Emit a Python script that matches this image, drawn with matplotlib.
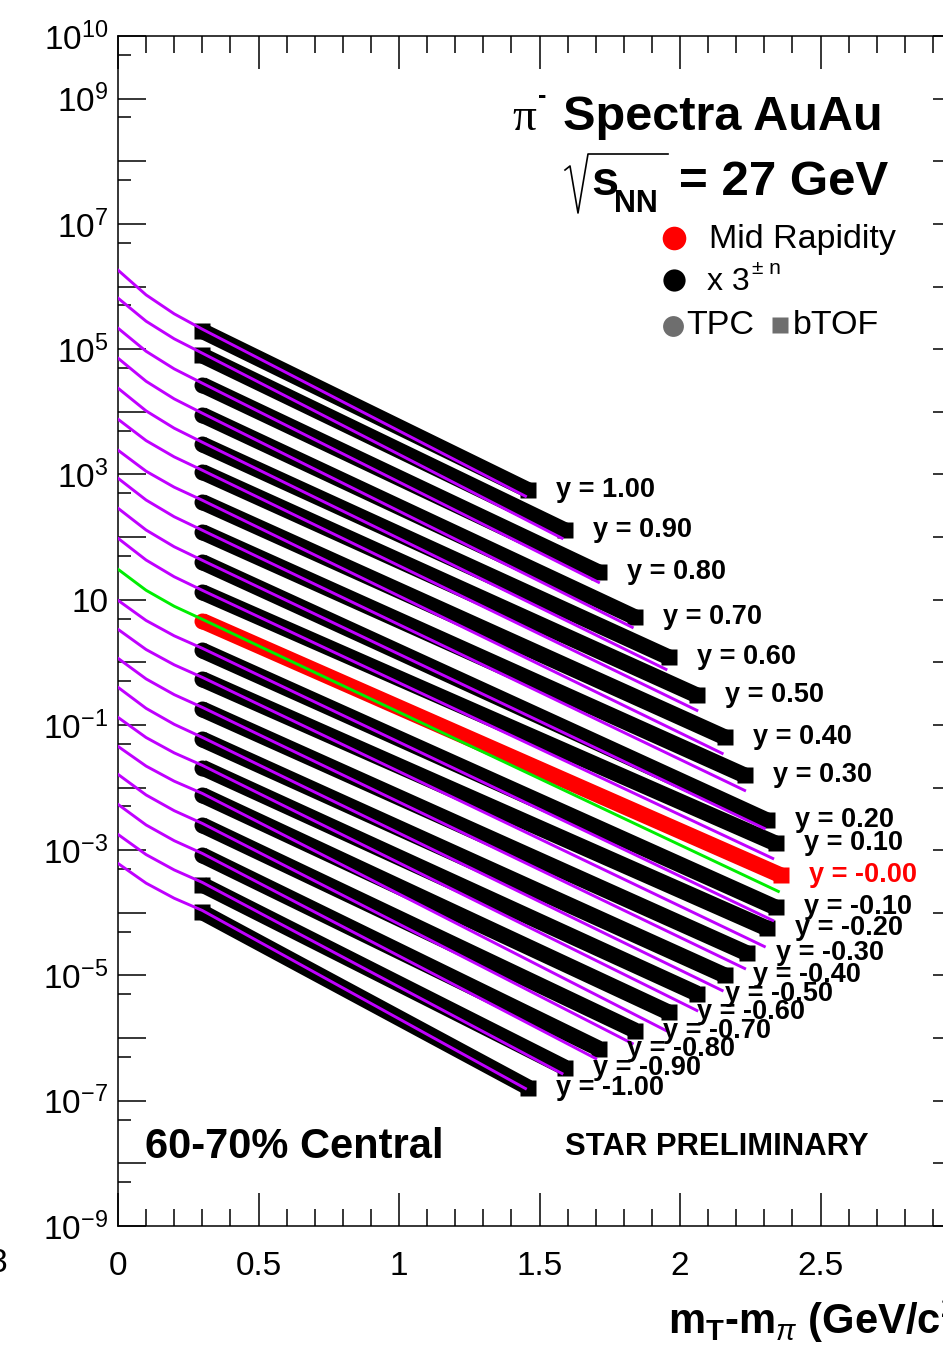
import matplotlib
matplotlib.use('Agg')
import matplotlib.pyplot as plt
from matplotlib.lines import Line2D
import numpy as np

plt.rcParams['font.family'] = ['Liberation Sans', 'DejaVu Sans']
plt.rcParams['mathtext.fontset'] = 'custom'
plt.rcParams['mathtext.rm'] = 'Liberation Sans'
plt.rcParams['mathtext.it'] = 'Liberation Sans:italic'
plt.rcParams['mathtext.bf'] = 'Liberation Sans:bold'

# rapidity slices, top (x3^10) to bottom (x3^-10)
rapidity = [1.0, 0.9, 0.8, 0.7, 0.6, 0.5, 0.4, 0.3, 0.2, 0.1, -0.0,
            -0.1, -0.2, -0.3, -0.4, -0.5, -0.6, -0.7, -0.8, -0.9, -1.0]

# fit curves, log10 of scaled yield at mT-m = 0, 0.1, 0.2, 0.3 and at the fit end
fit_at_00 = [6.262, 5.815, 5.335, 4.856, 4.377, 3.882, 3.387, 2.939, 2.460, 1.981, 1.486,
             0.990, 0.527, 0.064, -0.399, -0.879, -1.342, -1.789, -2.268, -2.748, -3.211]
fit_at_01 = [5.866, 5.446, 4.966, 4.487, 4.014, 3.540, 3.051, 2.591, 2.112, 1.633, 1.150,
             0.668, 0.204, -0.265, -0.735, -1.201, -1.657, -2.118, -2.597, -3.070, -3.526]
fit_at_02 = [5.564, 5.165, 4.685, 4.206, 3.738, 3.280, 2.796, 2.324, 1.845, 1.366, 0.895,
             0.423, -0.040, -0.516, -0.990, -1.446, -1.898, -2.369, -2.848, -3.315, -3.767]
fit_at_03 = [5.319, 4.936, 4.457, 3.978, 3.514, 3.067, 2.588, 2.109, 1.629, 1.150, 0.687,
             0.224, -0.240, -0.719, -1.198, -1.645, -2.093, -2.572, -3.051, -3.514, -3.962]
fit_end_x = [1.45, 1.58, 1.71, 1.83, 1.95, 2.06, 2.15, 2.23, 2.30, 2.33, 2.35,
             2.33, 2.30, 2.23, 2.15, 2.06, 1.95, 1.83, 1.70, 1.58, 1.45]
fit_end = [2.652, 1.981, 1.278, 0.559, -0.112, -0.767, -1.454, -2.045, -2.652, -3.131, -3.658,
           -4.121, -4.537, -4.888, -5.240, -5.559, -5.879, -6.086, -6.326, -6.565, -6.805]

# measured spectra: first bin (0.3) and last bin
data_start = [5.29, 4.90, 4.43, 3.95, 3.48, 3.04, 2.56, 2.08, 1.60, 1.12, 0.66,
              0.19, -0.27, -0.75, -1.23, -1.68, -2.12, -2.60, -3.08, -3.55, -3.99]
data_end_x = [1.46, 1.59, 1.71, 1.84, 1.96, 2.06, 2.16, 2.23, 2.31, 2.34, 2.36,
              2.34, 2.31, 2.24, 2.16, 2.06, 1.96, 1.84, 1.71, 1.59, 1.46]
data_end = [2.748, 2.109, 1.438, 0.719, 0.080, -0.527, -1.198, -1.805, -2.524, -2.891, -3.403,
            -3.914, -4.249, -4.649, -5.000, -5.288, -5.591, -5.879, -6.166, -6.470, -6.789]

W, H = 943, 1346
fig = plt.figure(figsize=(W / 100, H / 100), dpi=100)
ax = fig.add_axes([118 / W, 1 - 1226 / H, 843 / W, 1190 / H])


def fx(px):
    return px / W


def fy(py):
    return 1 - py / H


PURPLE = '#c000ff'
GREEN = '#00ee00'

for i, r in enumerate(rapidity):
    mid = (r == 0)
    band_col = 'red' if mid else 'black'
    z = 3 + 2 * mid
    # data band
    dx = [0.30, data_end_x[i]]
    dy = 10 ** np.array([data_start[i], data_end[i]])
    ax.plot(dx, dy, color=band_col, lw=11.5, solid_capstyle='butt', zorder=z)
    start_marker = 's' if abs(r) > 0.85 else 'o'
    ax.plot(dx[0], dy[0], marker=start_marker, ms=11.5, color=band_col, mec='none', zorder=z)
    ax.plot(dx[-1], dy[-1], marker='s', ms=11.5, color=band_col, mec='none', zorder=z)
    # fit curve
    fxs = [0.0, 0.1, 0.2, 0.3, fit_end_x[i]]
    fys = 10 ** np.array([fit_at_00[i], fit_at_01[i], fit_at_02[i], fit_at_03[i], fit_end[i]])
    ax.plot(fxs, fys, color=GREEN if mid else PURPLE, lw=2.1, zorder=z + 1)
    # rapidity label
    ax.text(data_end_x[i] + 0.10, 10 ** data_end[i], f'y = {r:.2f}', color=band_col,
            fontsize=19.5, fontweight='bold', ha='left', va='center', zorder=8)

ax.set_yscale('log')
ax.set_xlim(0, 3)
ax.set_ylim(1e-9, 1e10)

decades = list(range(-9, 11))
ytick_text = ['$10^{-9}$', '', '$10^{-7}$', '', '$10^{-5}$', '', '$10^{-3}$', '', '$10^{-1}$', '',
              '10', '', '$10^{3}$', '', '$10^{5}$', '', '$10^{7}$', '', '$10^{9}$', '$10^{10}$']
ax.set_yticks([10.0 ** d for d in decades])
ax.set_yticklabels(ytick_text)
ax.set_yticks([5 * 10.0 ** d for d in range(-9, 10)], minor=True)
ax.set_yticklabels([], minor=True)

xticks = [0, 0.5, 1, 1.5, 2, 2.5, 3]
xtick_text = ['0', '0.5', '1', '1.5', '2', '2.5', '']
ax.set_xticks(xticks)
ax.set_xticklabels(xtick_text)
ax.set_xticks(np.arange(0, 3.01, 0.1), minor=True)

ax.tick_params(which='both', direction='in', top=True, right=True, width=1.1, labelsize=24)
ax.tick_params(axis='y', which='major', length=20, pad=7)
ax.tick_params(axis='y', which='minor', length=9.5)
ax.tick_params(axis='x', which='major', length=24, pad=18)
ax.tick_params(axis='x', which='minor', length=12)
for s in ax.spines.values():
    s.set_linewidth(1.1)

# header
fig.text(fx(512), fy(130), 'π', family=['Liberation Serif', 'DejaVu Serif'], fontsize=34, ha='left', va='baseline')
fig.text(fx(538), fy(103), '-', fontsize=18, fontweight='bold', ha='left', va='baseline')
fig.text(fx(563), fy(130), 'Spectra AuAu', fontsize=35, fontweight='bold', ha='left', va='baseline')

# square-root sign
fig.add_artist(Line2D([fx(565), fx(570), fx(578), fx(588), fx(668)],
                      [fy(170), fy(166), fy(213), fy(154), fy(154)], color='black', lw=1.2))
fig.text(fx(591), fy(195), 's', fontsize=35, fontweight='bold', ha='left', va='baseline')
fig.text(fx(614), fy(212), 'NN', fontsize=22, fontweight='bold', ha='left', va='baseline')
fig.text(fx(679), fy(195), '= 27 GeV', fontsize=35.5, fontweight='bold', ha='left', va='baseline')

# legend
fig.add_artist(Line2D([fx(674)], [fy(238)], marker='o', ms=17, color='red', mec='none'))
fig.text(fx(709), fy(248), 'Mid Rapidity', fontsize=24.5, ha='left', va='baseline')
fig.add_artist(Line2D([fx(674)], [fy(280)], marker='o', ms=16, color='black', mec='none'))
fig.text(fx(707), fy(290), 'x 3', fontsize=23, ha='left', va='baseline')
fig.text(fx(752), fy(274), '± n', fontsize=15, ha='left', va='baseline')
fig.add_artist(Line2D([fx(673)], [fy(326)], marker='o', ms=15, color='#6e6e6e', mec='none'))
fig.text(fx(686), fy(334), 'TPC', fontsize=24.5, ha='left', va='baseline')
fig.add_artist(Line2D([fx(780)], [fy(325)], marker='s', ms=12, color='#6e6e6e', mec='none'))
fig.text(fx(793), fy(334), 'bTOF', fontsize=24.5, ha='left', va='baseline')

fig.text(fx(145), fy(1158), '60-70% Central', fontsize=30, fontweight='bold', ha='left', va='baseline')
fig.text(fx(565), fy(1155), 'STAR PRELIMINARY', fontsize=22.3, fontweight='bold', ha='left', va='baseline')

fig.text(fx(668), fy(1334), r'm$_{\mathbf{T}}$-m$_{\pi}$ (GeV/c$^{\mathbf{2}}$)',
         fontsize=30, fontweight='bold', ha='left', va='baseline')

# neighbouring panel's tick label at the far left
fig.text(fx(7), fy(1272), '3', fontsize=24, ha='right', va='baseline')

fig.savefig('out.png', dpi=100)
